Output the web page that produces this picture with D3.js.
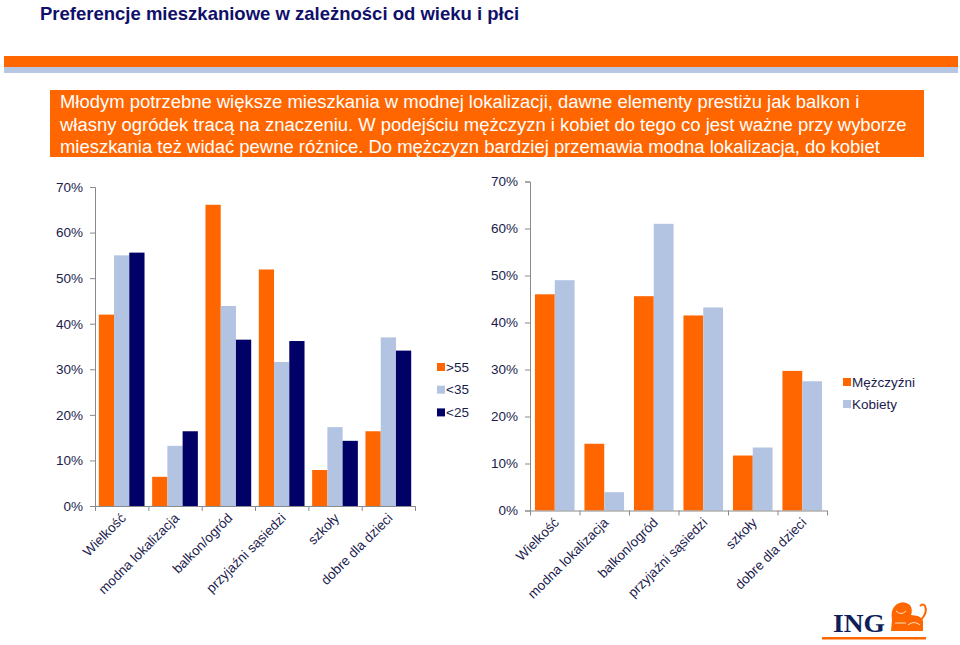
<!DOCTYPE html>
<html>
<head>
<meta charset="utf-8">
<script src="https://cdn.jsdelivr.net/npm/d3@7"></script>
<style>
  html, body { margin: 0; padding: 0; background: #ffffff; }
  svg { display: block; font-family: Arial, "Liberation Sans", Helvetica, sans-serif; }
</style>
</head>
<body>
<svg id="chart" width="960" height="645"></svg>
<script>
// ---------- DATA ----------
const titleText = "Preferencje mieszkaniowe w zależności od wieku i płci";
const bannerLines = [
  "Młodym potrzebne większe mieszkania w modnej lokalizacji, dawne elementy prestiżu jak balkon i",
  "własny ogródek tracą na znaczeniu. W podejściu mężczyzn i kobiet do tego co jest ważne przy wyborze",
  "mieszkania też widać pewne różnice. Do mężczyzn bardziej przemawia modna lokalizacja, do kobiet"
];
const categories = ["Wielkość", "modna lokalizacja", "balkon/ogród", "przyjaźni sąsiedzi", "szkoły", "dobre dla dzieci"];
const ageSeries = [">55", "<35", "<25"];
const ageOver55 = [42.0, 6.4, 66.1, 51.9, 7.9, 16.4];
const ageUnder35 = [55.0, 13.2, 43.9, 31.6, 17.3, 37.0];
const ageUnder25 = [55.6, 16.4, 36.5, 36.2, 14.3, 34.1];
const genderSeries = ["Mężczyźni", "Kobiety"];
const men = [46.0, 14.2, 45.6, 41.5, 11.7, 29.7];
const women = [49.0, 3.9, 61.0, 43.2, 13.4, 27.5];
const yTicks = [0, 10, 20, 30, 40, 50, 60, 70];

// ---------- STYLE ----------
const ORANGE = "#FF6600";
const LIGHT = "#B3C3E2";
const NAVY = "#000066";
const TEXT = "#1B1B4D";
const AXIS = "#8A8A8A";

const svg = d3.select("#chart");

// Title
svg.append("text")
  .attr("x", 40).attr("y", 19.5)
  .attr("font-size", 18.5).attr("font-weight", "bold")
  .attr("fill", "#10106A")
  .text(titleText);

// Stripes
svg.append("rect").attr("x", 4).attr("y", 56).attr("width", 954).attr("height", 11).attr("fill", ORANGE);
svg.append("rect").attr("x", 4).attr("y", 67).attr("width", 954).attr("height", 6).attr("fill", "#B7C6E3");

// Banner
svg.append("rect").attr("x", 50).attr("y", 90).attr("width", 874).attr("height", 67).attr("fill", ORANGE);
const bannerClip = svg.append("defs").append("clipPath").attr("id", "bclip");
bannerClip.append("rect").attr("x", 50).attr("y", 90).attr("width", 874).attr("height", 67);
svg.append("g").attr("clip-path", "url(#bclip)")
  .selectAll("text").data(bannerLines).join("text")
  .attr("x", 60).attr("y", (d, i) => 108 + i * 22.5)
  .attr("font-size", 18.45).attr("fill", "#FFFFFF")
  .text(d => d);

// ---------- chart builder ----------
function drawChart(cfg) {
  const g = svg.append("g");
  const x0 = d3.scaleBand().domain(categories).range([cfg.left, cfg.right]).paddingInner(0).paddingOuter(0);
  const x1 = d3.scaleBand().domain(cfg.series).range([0, x0.bandwidth()]).paddingInner(0).paddingOuter(0.25);
  const y = d3.scaleLinear().domain([0, 70]).range([cfg.bottom, cfg.top]);

  // bars
  cfg.series.forEach((s, si) => {
    g.append("g").selectAll("rect").data(cfg.values[si]).join("rect")
      .attr("x", (d, i) => x0(categories[i]) + x1(s))
      .attr("y", d => y(d))
      .attr("width", x1.bandwidth())
      .attr("height", d => y(0) - y(d))
      .attr("fill", cfg.colors[si]);
  });

  // y axis
  const yAxis = d3.axisLeft(y).tickValues(yTicks).tickSize(5).tickPadding(7)
    .tickFormat(d => d + "%");
  const ya = g.append("g").attr("transform", `translate(${cfg.left},0)`).call(yAxis);
  ya.select(".domain").attr("stroke", AXIS);
  ya.selectAll(".tick line").attr("stroke", AXIS);
  ya.selectAll(".tick text").attr("fill", TEXT).attr("font-size", 13.5)
    .attr("font-family", "Arial, 'Liberation Sans', sans-serif");

  // x axis line + boundary ticks
  g.append("line").attr("x1", cfg.left).attr("x2", cfg.right)
    .attr("y1", y(0) + 0.5).attr("y2", y(0) + 0.5).attr("stroke", AXIS);
  const bounds = categories.map(c => x0(c)).concat([cfg.right]);
  g.append("g").selectAll("line").data(bounds).join("line")
    .attr("x1", d => d + 0.5).attr("x2", d => d + 0.5)
    .attr("y1", y(0)).attr("y2", y(0) + 5).attr("stroke", AXIS);

  // x labels
  g.append("g").selectAll("text").data(categories).join("text")
    .attr("transform", c => `translate(${x0(c) + x0.bandwidth() / 2 + 5},${y(0) + 13}) rotate(-45)`)
    .attr("text-anchor", "end")
    .attr("font-size", 13.5).attr("fill", TEXT)
    .text(c => c);

  // legend
  const lg = g.append("g");
  cfg.series.forEach((s, si) => {
    const cy = cfg.legendY + si * cfg.legendStep;
    lg.append("rect").attr("x", cfg.legendX).attr("y", cy - 4).attr("width", 8).attr("height", 8).attr("fill", cfg.colors[si]);
    lg.append("text").attr("x", cfg.legendX + 9).attr("y", cy + 4.5)
      .attr("font-size", 13.5).attr("fill", TEXT).text(s);
  });
}

drawChart({
  left: 95, right: 415, top: 187, bottom: 506,
  series: ageSeries, values: [ageOver55, ageUnder35, ageUnder25],
  colors: [ORANGE, LIGHT, NAVY],
  legendX: 437, legendY: 367, legendStep: 22.7
});

drawChart({
  left: 530, right: 827, top: 181.5, bottom: 510.5,
  series: genderSeries, values: [men, women],
  colors: [ORANGE, LIGHT],
  legendX: 843, legendY: 382, legendStep: 22
});

// ---------- ING logo ----------
const logo = svg.append("g");
logo.append("text").attr("x", 833).attr("y", 632)
  .attr("font-family", "'Liberation Serif', 'DejaVu Serif', Times, serif")
  .attr("font-weight", "bold").attr("font-size", 25).attr("fill", "#0F1E5A")
  .attr("textLength", 52).attr("lengthAdjust", "spacingAndGlyphs")
  .text("ING");
// lion (simple stylised)
const lion = logo.append("g").attr("fill", ORANGE);
lion.append("path").attr("d", "M891,631 L892,620 Q890,609 897,604 Q904,600 910,605 Q913,610 911,615 L918,616 Q924,618 923,626 L923,631 Z");
lion.append("path").attr("d", "M921,620 Q928,612 925,606 Q923,603 920,606").attr("fill", "none").attr("stroke", ORANGE).attr("stroke-width", 2);
lion.append("path").attr("d", "M896,611 Q901,616 906,611 M895,623 L906,623 M908,625 Q914,620 920,625").attr("fill", "none").attr("stroke", "#FFE0C0").attr("stroke-width", 1);
logo.append("rect").attr("x", 822).attr("y", 637).attr("width", 104).attr("height", 2.5).attr("fill", ORANGE);
</script>
</body>
</html>
